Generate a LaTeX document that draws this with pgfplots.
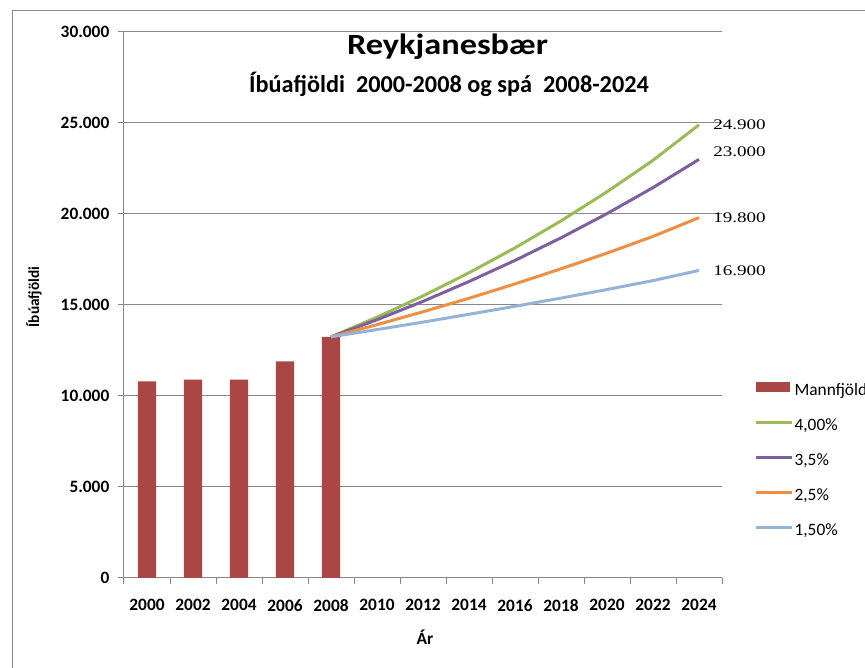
\documentclass[border=0pt]{standalone}
\usepackage{fontspec}
\setmainfont{Carlito}
\newfontfamily\serif{Liberation Serif}
\usepackage{graphicx}
\usepackage{pgfplots}
\pgfplotsset{compat=1.18}

\definecolor{barred}{HTML}{AA4643}
\definecolor{lgreen}{HTML}{9BBB59}
\definecolor{lpurple}{HTML}{7D60A0}
\definecolor{lorange}{HTML}{F08E42}
\definecolor{lblue}{HTML}{95B3D7}
\definecolor{axgray}{HTML}{888888}

\newcommand\lbl[1]{\serif\fontsize{11}{13}\selectfont\scalebox{1.3}[1]{#1}}

\begin{document}
\begin{tikzpicture}
\path[use as bounding box] (0,0) rectangle (648.75pt,501pt);
\clip (0,0) rectangle (648.75pt,501pt);

% frame and titles, in pixel units from the top left
\begin{scope}[x=0.75pt,y=-0.75pt,shift={(0,501pt)}]
  \draw[axgray, line width=0.75pt] (12,670) -- (12,11) -- (870,11);
  \node[font=\bfseries\fontsize{22}{26}\selectfont] at (447.5,47) {\scalebox{1.17}[1]{Reykjanesbær}};
  \node[font=\bfseries\fontsize{18.2}{21}\selectfont] at (449,84)
    {Íbúafjöldi\ \ 2000-2008 og spá\ \ 2008-2024};
  \node[font=\bfseries\fontsize{11.5}{13}\selectfont, rotate=90] at (34,297) {Íbúafjöldi};
  \node[font=\bfseries\fontsize{13}{15}\selectfont] at (425,637) {Ár};
\end{scope}

\begin{axis}[
  at={(93pt,67.5pt)}, anchor=south west,
  scale only axis, width=448.5pt, height=409.5pt,
  xmin=-0.5, xmax=12.5, ymin=0, ymax=30000,
  axis x line=bottom, axis y line=left,
  axis line style={-, draw=axgray, line width=0.75pt},
  xtick={-0.5,0.5,...,12.5},
  x tick label as interval,
  xticklabels={2000,2002,2004,2006,2008,2010,2012,2014,2016,2018,2020,2022,2024},
  ytick={0,5000,10000,15000,20000,25000,30000},
  yticklabels={0,5.000,10.000,15.000,20.000,25.000,30.000},
  scaled y ticks=false,
  ymajorgrids, grid style={axgray, line width=0.75pt},
  tick style={axgray, line width=0.75pt}, tick align=outside,
  major tick length=4.5pt,
  xticklabel style={font=\bfseries\fontsize{13}{15}\selectfont, yshift=-8pt},
  yticklabel style={font=\bfseries\fontsize{13}{15}\selectfont, xshift=-3pt},
  clip=false,
  legend style={at={(1.0535,0.36)}, anchor=north west, draw=none, fill=none,
    inner sep=0pt, row sep=14.3pt, font=\fontsize{13}{15}\selectfont,
    nodes={inner ysep=0pt, inner xsep=1pt, text height=9pt, text depth=3pt}},
  legend cell align=left,
  legend image code/.code={\draw[#1, line width=2.25pt] (0pt,3.5pt) -- (27pt,3.5pt);},
]
\addplot[ybar, bar width=13.8pt, bar shift=0pt, fill=barred, draw=none,
  legend image code/.code={\fill[barred] (0pt,0pt) rectangle (25.5pt,7.5pt);}]
  coordinates {(0,10800) (1,10900) (2,10900) (3,11900) (4,13250)};
\addlegendentry{Mannfjöldi}
\addplot[lgreen, line width=2.25pt] coordinates {
  (4,13250) (5,14330) (6,15500) (7,16770) (8,18140) (9,19620) (10,21220) (11,22950) (12,24900)};
\addlegendentry{4,00\%}
\addplot[lpurple, line width=2.25pt] coordinates {
  (4,13250) (5,14190) (6,15200) (7,16290) (8,17450) (9,18690) (10,20020) (11,21450) (12,23000)};
\addlegendentry{3,5\%}
\addplot[lorange, line width=2.25pt] coordinates {
  (4,13250) (5,13920) (6,14630) (7,15370) (8,16160) (9,16990) (10,17850) (11,18770) (12,19800)};
\addlegendentry{2,5\%}
\addplot[lblue, line width=2.25pt] coordinates {
  (4,13250) (5,13650) (6,14060) (7,14490) (8,14930) (9,15380) (10,15850) (11,16340) (12,16900)};
\addlegendentry{1,50\%}

\node[anchor=west, inner sep=0pt, xshift=10.5pt] at (axis cs:12,24900) {\lbl{24.900}};
\node[anchor=west, inner sep=0pt, xshift=10.5pt, yshift=5.5pt] at (axis cs:12,23000) {\lbl{23.000}};
\node[anchor=west, inner sep=0pt, xshift=10.5pt] at (axis cs:12,19800) {\lbl{19.800}};
\node[anchor=west, inner sep=0pt, xshift=10.5pt] at (axis cs:12,16900) {\lbl{16.900}};
\end{axis}
\end{tikzpicture}
\end{document}
